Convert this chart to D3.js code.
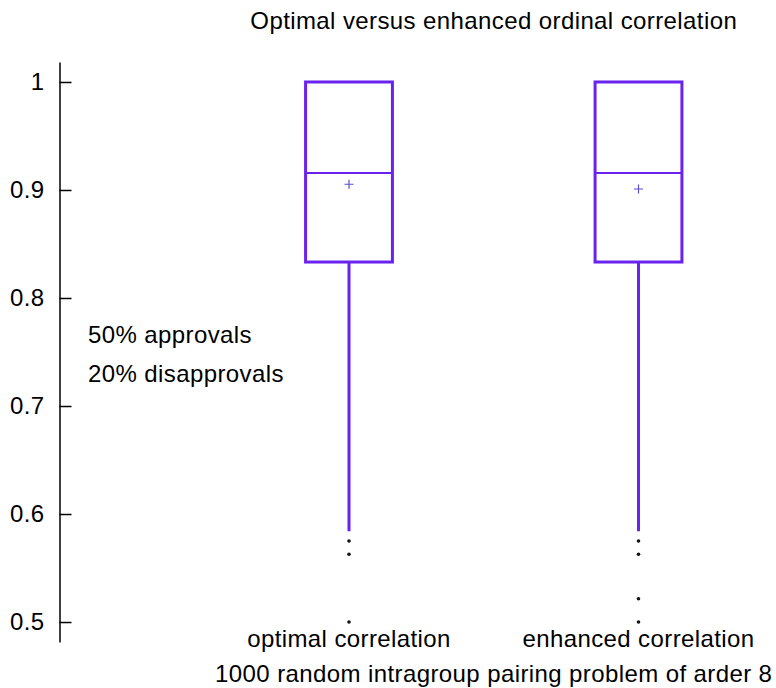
<!DOCTYPE html>
<html>
<head>
<meta charset="utf-8">
<script src="https://cdn.jsdelivr.net/npm/d3@7"></script>
<style>
  html, body { margin: 0; padding: 0; background: #fff; }
  svg { display: block; font-family: "Liberation Sans", Arial, sans-serif; }
  text { letter-spacing: 0.4px; }
</style>
</head>
<body>
<svg id="chart" width="776" height="688"></svg>
<script>
// Box statistics for the two correlation methods
const categories = ["optimal correlation", "enhanced correlation"];
const positions = [1, 2];
const q1 = [0.8333, 0.8333];
const median = [0.9157, 0.9157];
const q3 = [1.0, 1.0];
const whiskerLow = [0.584, 0.584];
const whiskerHigh = [1.0, 1.0];
const means = [0.9053, 0.9009];
const outliers = [
  [0.575, 0.5627, 0.5],
  [0.575, 0.5627, 0.5215, 0.5]
];
const yTicks = [0.5, 0.6, 0.7, 0.8, 0.9, 1];
const titleText = "Optimal versus enhanced ordinal correlation";
const xAxisTitle = "1000 random intragroup pairing problem of arder 8";
const notes = ["50% approvals", "20% disapprovals"];

const boxColor = "#6a22ee";
const meanColor = "#5a4fd0";
const fontSize = 24;

const svg = d3.select("#chart");

const y = d3.scaleLinear().domain([0.4815, 1.0185]).range([642, 62]);
const x = d3.scaleLinear().domain([0, 3]).range([59.5, 928]);
const boxW = 0.3;

// Left axis
const yAxis = d3.axisLeft(y).tickValues(yTicks).tickSize(0).tickPadding(15)
  .tickFormat(d3.format("~g"));
const gy = svg.append("g").attr("transform", "translate(59.5,0)").call(yAxis);
gy.select(".domain").attr("stroke", "#000").attr("stroke-width", 1.5);
gy.selectAll(".tick text").attr("font-size", fontSize).attr("fill", "#000")
  .attr("font-family", "Liberation Sans, Arial, sans-serif");
gy.selectAll(".tick").append("line")
  .attr("x1", 0).attr("x2", 12).attr("stroke", "#000").attr("stroke-width", 1.5);

// Boxes
const data = positions.map((p, i) => ({
  p, q1: q1[i], med: median[i], q3: q3[i], lo: whiskerLow[i], hi: whiskerHigh[i],
  mean: means[i], out: outliers[i], label: categories[i]
}));

const g = svg.selectAll("g.box").data(data).join("g").attr("class", "box");

g.append("line")
  .attr("x1", d => x(d.p)).attr("x2", d => x(d.p))
  .attr("y1", d => y(d.q1)).attr("y2", d => y(d.lo))
  .attr("stroke", boxColor).attr("stroke-width", 3);

g.append("rect")
  .attr("x", d => x(d.p - boxW / 2)).attr("width", d => x(d.p + boxW / 2) - x(d.p - boxW / 2))
  .attr("y", d => y(d.q3)).attr("height", d => y(d.q1) - y(d.q3))
  .attr("fill", "none").attr("stroke", boxColor).attr("stroke-width", 3);

g.append("line")
  .attr("x1", d => x(d.p - boxW / 2)).attr("x2", d => x(d.p + boxW / 2))
  .attr("y1", d => y(d.med)).attr("y2", d => y(d.med))
  .attr("stroke", boxColor).attr("stroke-width", 2);

// Mean markers
g.append("path")
  .attr("d", d => {
    const cx = x(d.p), cy = y(d.mean);
    return `M${cx - 4.5},${cy}H${cx + 4.5}M${cx},${cy - 4.5}V${cy + 4.5}`;
  })
  .attr("stroke", meanColor).attr("stroke-width", 1.2).attr("fill", "none");

// Outliers
g.selectAll("circle").data(d => d.out.map(v => ({ p: d.p, v }))).join("circle")
  .attr("cx", d => x(d.p)).attr("cy", d => y(d.v)).attr("r", 1.8).attr("fill", "#111");

// Category labels
g.append("text")
  .attr("x", d => x(d.p)).attr("y", 647)
  .attr("text-anchor", "middle").attr("font-size", fontSize).attr("fill", "#000")
  .text(d => d.label);

// Axis title and chart title
svg.append("text").attr("x", x(1.5)).attr("y", 682)
  .attr("text-anchor", "middle").attr("font-size", fontSize).text(xAxisTitle);
svg.append("text").attr("x", x(1.5)).attr("y", 29)
  .attr("text-anchor", "middle").attr("font-size", fontSize).text(titleText);

// Annotation text
svg.selectAll("text.note").data(notes).join("text").attr("class", "note")
  .attr("x", 88).attr("y", (d, i) => 343 + i * 39)
  .attr("font-size", fontSize).text(d => d);
</script>
</body>
</html>
